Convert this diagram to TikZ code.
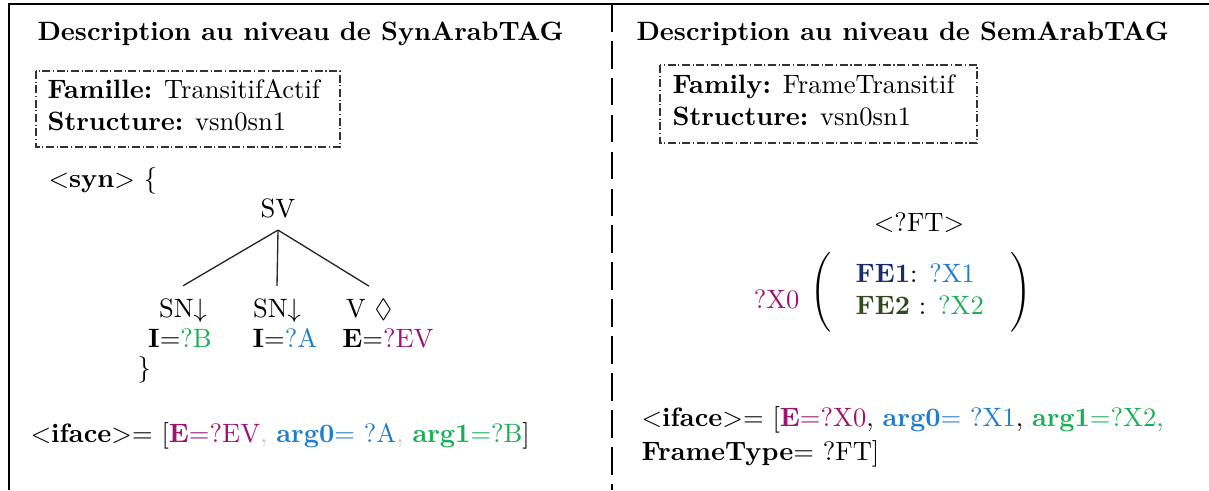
\documentclass[tikz,border=0pt]{standalone}
\usepackage{amsmath,amssymb}
\usepackage{tikz}
\usetikzlibrary{positioning,calc}

\definecolor{varE}{RGB}{155,20,115}
\definecolor{varA}{RGB}{30,125,205}
\definecolor{varB}{RGB}{25,175,85}
\definecolor{feOne}{RGB}{25,45,110}
\definecolor{feTwo}{RGB}{50,75,30}
\definecolor{lightsep}{RGB}{200,200,200}

\tikzset{
  txt/.style={anchor=base west, inner sep=0},
  infobox/.style={draw=black!80, densely dashdotted, line width=0.4pt},
  treenode/.style={anchor=base, inner sep=4.5pt},
  frameline/.style={line width=1.1pt}
}

\begin{document}
\begin{tikzpicture}[x=0.3766pt, y=-0.3766pt]
  \useasboundingbox (0,0) rectangle (1209,490);

  \draw[frameline] (9,490) -- (9,4) -- (1209,4);
  \draw[frameline, dash pattern=on 10.4pt off 3.5pt] (612,4) -- (612,490);

  % SynArabTAG
  \node[txt] (titleSyn) at (37,40) {\textbf{Description au niveau de SynArabTAG}};
  \draw[infobox] (36,71) rectangle (340,147);
  \node[txt] (famSyn) at (47,98) {\textbf{Famille:} TransitifActif};
  \node[txt] (strSyn) at (47,130) {\textbf{Structure:} vsn0sn1};

  \node[txt] (synOpen) at (48,187) {$<$\textbf{syn}$>$ \{};
  \node[treenode] (sv) at (278,217) {SV};
  \node[treenode] (snB) at (183,317) {SN$\downarrow$};
  \node[treenode] (snA) at (277,317) {SN$\downarrow$};
  \node[treenode] (vE) at (369,317) {V $\lozenge$};
  \foreach \c in {snB,snA,vE}
  {
    \draw[line width=0.5pt, black!85] (sv.south) -- (\c.north);
  }
  \node[anchor=base, inner sep=0] (featB) at (180,347) {\textbf{I}=\textcolor{varB}{?B}};
  \node[anchor=base, inner sep=0] (featA) at (285,347) {\textbf{I}=\textcolor{varA}{?A}};
  \node[anchor=base, inner sep=0] (featE) at (388,347) {\textbf{E}=\textcolor{varE}{?EV}};
  \node[txt] (synClose) at (137,376) {\}};

  \node[txt] (ifaceSyn) at (30,442)
  {$<$\textbf{iface}$>$= [\textcolor{varE}{\textbf{E}=?EV}\textcolor{lightsep}{,} \textcolor{varA}{\textbf{arg0}= ?A}\textcolor{lightsep}{,} \textcolor{varB}{\textbf{arg1}=?B}]};

  % SemArabTAG
  \node[txt] (titleSem) at (636,40) {\textbf{Description au niveau de SemArabTAG}};
  \draw[infobox] (660,65) rectangle (977,143);
  \node[txt] (famSem) at (672,93) {\textbf{Family:} FrameTransitif};
  \node[txt] (strSem) at (672,125) {\textbf{Structure:} vsn0sn1};

  \node[anchor=base, inner sep=0] (ft) at (919,231) {$<$?FT$>$};
  \node[inner sep=0] (frameSem) at (921,292)
  {$\Bigg(\begin{tabular}{@{\hspace{9pt}}l@{\hspace{10pt}}}
      \textcolor{feOne}{\textbf{FE1}}: \textcolor{varA}{?X1}\\
      \textcolor{feTwo}{\textbf{FE2}} : \textcolor{varB}{?X2}
    \end{tabular}\Bigg)$};
  \node[anchor=base east, inner sep=0, text=varE] (xZero) at (800,308) {?X0};

  \node[txt] (ifaceSem) at (641,426)
  {$<$\textbf{iface}$>$= [\textcolor{varE}{\textbf{E}=?X0}, \textcolor{varA}{\textbf{arg0}= ?X1}, \textcolor{varB}{\textbf{arg1}=?X2,}};
  \node[txt] (typeSem) at (641,460) {\textbf{FrameType}= ?FT]};
\end{tikzpicture}
\end{document}
